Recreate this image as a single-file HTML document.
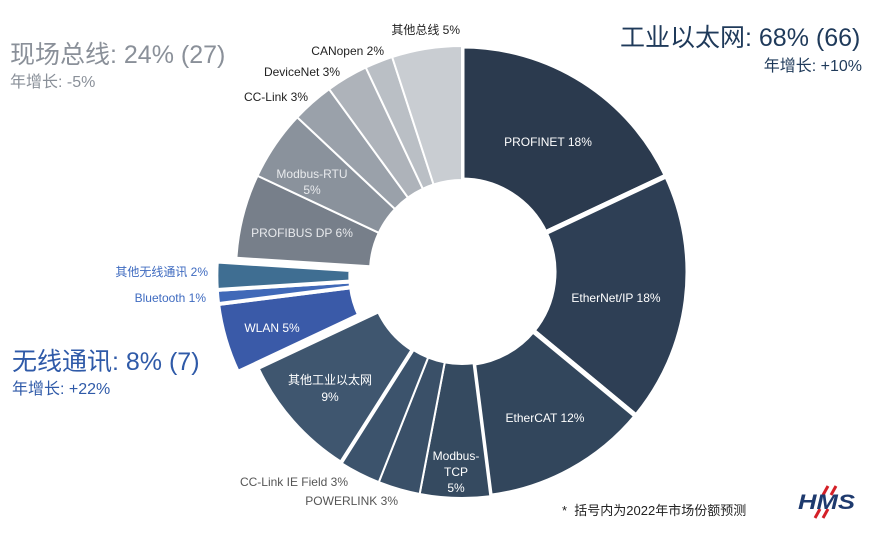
<!DOCTYPE html>
<html><head><meta charset="utf-8">
<style>
html,body{margin:0;padding:0;background:#fff;}
body{width:870px;height:535px;overflow:hidden;position:relative;font-family:"Liberation Sans","Noto Sans CJK SC",sans-serif;}
.t{position:absolute;white-space:nowrap;}
</style></head><body>
<svg id="s" width="870" height="535" style="position:absolute;left:0;top:0" xmlns="http://www.w3.org/2000/svg" font-family="Liberation Sans, Noto Sans CJK SC, sans-serif">
<g id="g"></g>
<g font-size="12" fill="#fff" text-anchor="middle">
<text x="548" y="146">PROFINET 18%</text>
<text x="616" y="302">EtherNet/IP 18%</text>
<text x="545" y="422">EtherCAT 12%</text>
<text x="456" y="460">Modbus-</text><text x="456" y="476">TCP</text><text x="456" y="492">5%</text>
<text x="330" y="384">其他工业以太网</text><text x="330" y="401">9%</text>
<text x="272" y="332">WLAN 5%</text>
<text x="302" y="237" fill="#e8eaed">PROFIBUS DP 6%</text>
<text x="312" y="178" fill="#e8eaed">Modbus-RTU</text><text x="312" y="194" fill="#e8eaed">5%</text>
</g>
<g font-size="12" fill="#222" text-anchor="end">
<text x="460" y="34">其他总线 5%</text>
<text x="384" y="55">CANopen 2%</text>
<text x="340" y="76">DeviceNet 3%</text>
<text x="308" y="101">CC-Link 3%</text>
<text x="348" y="486" fill="#555">CC-Link IE Field 3%</text>
<text x="398" y="505" fill="#555">POWERLINK 3%</text>
<text x="208" y="276" fill="#3f6bc0">其他无线通讯 2%</text>
<text x="206" y="302" fill="#3f6bc0">Bluetooth 1%</text>
</g>
<text x="562" y="515" font-size="13" fill="#222">*&#160;&#160;括号内为2022年市场份额预测</text>
<g transform="translate(798,484)">
<line x1="30" y1="2" x2="25" y2="11" stroke="#d42027" stroke-width="3"/>
<line x1="38" y1="2" x2="33" y2="11" stroke="#d42027" stroke-width="3"/>
<line x1="22" y1="25" x2="17" y2="34" stroke="#d42027" stroke-width="3"/>
<line x1="30" y1="25" x2="25" y2="34" stroke="#d42027" stroke-width="3"/>
<text x="0" y="25" font-size="21" font-weight="bold" font-style="italic" fill="#1e3a6e" textLength="57" lengthAdjust="spacingAndGlyphs">HMS</text>
</g>
</svg>
<div class="t" style="left:620px;top:18px;font-size:25px;color:#1f3a5a;">工业以太网: 68% (66)</div>
<div class="t" style="right:8px;top:52px;font-size:16px;color:#1f3a5a;">年增长: +10%</div>
<div class="t" style="left:10px;top:35px;font-size:25px;color:#8a9099;">现场总线: 24% (27)</div>
<div class="t" style="left:10px;top:68px;font-size:16px;color:#8a9099;">年增长: -5%</div>
<div class="t" style="left:12px;top:342px;font-size:25px;color:#2f5aa8;">无线通讯: 8% (7)</div>
<div class="t" style="left:12px;top:375px;font-size:16px;color:#2f5aa8;">年增长: +22%</div>
<script>
var cx=462,cy=272,R=226,r=92;
var segs=[
[18,'#2b3a4e',0],[18,'#2e3f55',0],[12,'#32465c',0],[5,'#354a60',0],[3,'#3a5068',0],[3,'#3c536c',0],[9,'#3f566f',0],
[5,'#3a5aa8',1],[1,'#4069b8',1],[2,'#3f6e92',1],
[6,'#777f8a',0],[5,'#8a929c',0],[3,'#9aa1aa',0],[3,'#aeb3ba',0],[2,'#babfc5',0],[5,'#c9cdd2',0]];
var widths=[5,5,5,2,2,2,4,4,4,4,2,2,2,2,2,2];
function pt(a,rad,ox,oy){var t=a*Math.PI/180;return [cx+ox+rad*Math.sin(t),cy+oy-rad*Math.cos(t)];}
var a=0,h='';
segs.forEach(function(s,i){
 var a0=a,a1=a+s[0]*3.6;a=a1;
 var ox=0,oy=0;
 if(s[2]){var m=259.2*Math.PI/180;ox=20*Math.sin(m);oy=-20*Math.cos(m);}
 var p1=pt(a0,R,ox,oy),p2=pt(a1,R,ox,oy),p3=pt(a1,r,ox,oy),p4=pt(a0,r,ox,oy);
 var lg=(a1-a0)>180?1:0;
 h+='<path d="M'+p1+' A'+R+','+R+' 0 '+lg+' 1 '+p2+' L'+p3+' A'+r+','+r+' 0 '+lg+' 0 '+p4+' Z" fill="'+s[1]+'" stroke="#fff" stroke-width="'+widths[i]+'" stroke-linejoin="miter"/>';
});
document.getElementById('g').innerHTML=h;
</script>
</body></html>
